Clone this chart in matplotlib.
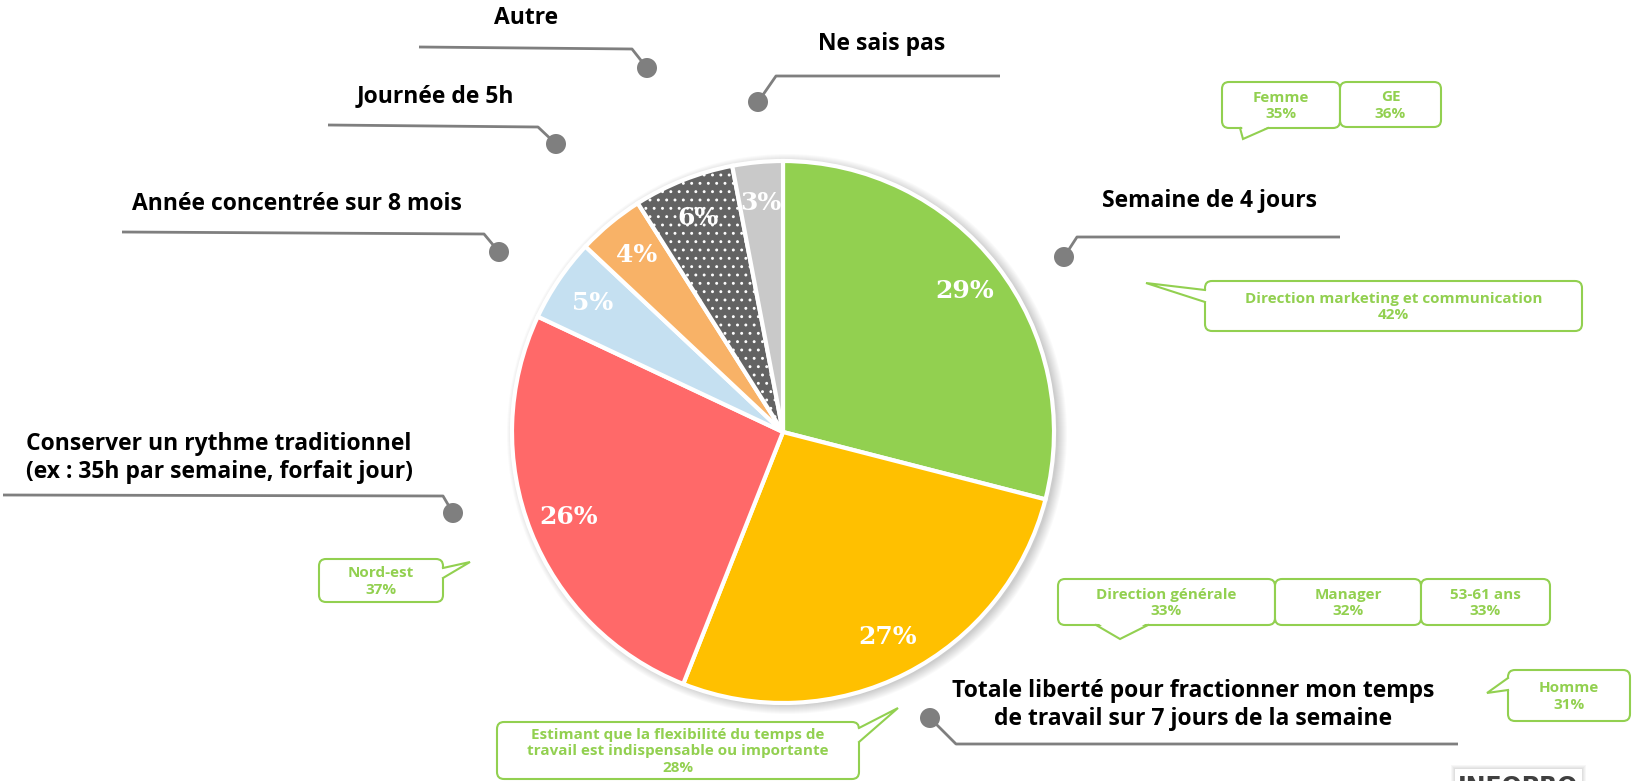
import matplotlib
matplotlib.use("Agg")
import matplotlib.pyplot as plt
from matplotlib.patches import Circle, FancyBboxPatch, Polygon, Rectangle

W, H = 1633, 781

# Données
categories = ["Semaine de 4 jours",
              "Totale liberté pour fractionner mon temps\nde travail sur 7 jours de la semaine",
              "Conserver un rythme traditionnel\n(ex : 35h par semaine, forfait jour)",
              "Année concentrée sur 8 mois",
              "Journée de 5h",
              "Autre",
              "Ne sais pas"]
valeurs = [29, 27, 26, 5, 4, 6, 3]
couleurs = ["#92D050", "#FFC000", "#FF6969", "#C5E0F1", "#F8B267", "#636363", "#C9C9C9"]

# Bulles (texte des sous-populations)
bulles_textes = ["Femme\n35%", "GE\n36%", "Direction marketing et communication\n42%",
                 "Nord-est\n37%", "Direction générale\n33%", "Manager\n32%", "53-61 ans\n33%",
                 "Homme\n31%",
                 "Estimant que la flexibilité du temps de\ntravail est indispensable ou importante\n28%"]

VERT = "#92D050"
GRIS = "#7F7F7F"


def Y(y):
    return H - y


fig = plt.figure(figsize=(W / 100, H / 100), dpi=100)
ax = fig.add_axes([0, 0, 1, 1])

cx, cy, R = 783, 432, 271

# ombre douce autour du camembert
for k in range(10):
    ax.add_patch(Circle((cx + 4, Y(cy) - 2), R + 9 - k, color="#000000", alpha=0.018, lw=0, zorder=1))

plt.rcParams["hatch.linewidth"] = 0.9
wedges, _, autotexts = ax.pie(valeurs, colors=couleurs, startangle=90, counterclock=False,
                               center=(cx, Y(cy)), radius=R, autopct="%d%%", pctdistance=0.85,
                               wedgeprops=dict(edgecolor="white", linewidth=3),
                               textprops=dict(color="white", fontsize=18, fontweight="bold",
                                              family="DejaVu Serif"))
for w in wedges:
    w.set_zorder(2)
wedges[5].set_hatch("..")
for t in autotexts:
    t.set_zorder(5)

# libellés + traits de rappel
FONT = "Open Sans"
libelles = [
    # texte, position texte, points du trait (le dernier = point)
    (categories[0], (1210, 201), [(1340, 237), (1077, 237), (1064, 257)]),
    (categories[1], (1193, 705), [(1458, 744), (956, 744), (930, 718)]),
    (categories[2], (219, 458), [(3, 495), (443, 496), (453, 513)]),
    (categories[3], (297, 204), [(122, 232), (484, 234), (499, 252)]),
    (categories[4], (435, 96), [(328, 125), (538, 127), (556, 144)]),
    (categories[5], (526, 18), [(419, 47), (632, 49), (647, 68)]),
    (categories[6], (882, 44), [(1000, 76), (776, 76), (758, 102)]),
]
for txt, (tx, ty), pts in libelles:
    ax.text(tx, Y(ty), txt, ha="center", va="center", fontsize=16.5, fontweight="bold",
            family=FONT, color="black", linespacing=1.2, zorder=6)
    xs = [p[0] for p in pts]
    ys = [Y(p[1]) for p in pts]
    ax.plot(xs, ys, color=GRIS, lw=2, zorder=3, solid_capstyle="butt")
    ax.add_patch(Circle((xs[-1], ys[-1]), 10, color=GRIS, lw=0, zorder=4))

# bulles vertes : boite (x0, y0, x1, y1), queue (base1, pointe, base2)
bulles = [
    ((1222, 82, 1340, 128), ((1240, 128), (1243, 139), (1268, 128))),
    ((1340, 82, 1441, 127), None),
    ((1205, 281, 1582, 331), ((1205, 290), (1146, 283), (1205, 302))),
    ((319, 559, 443, 602), ((443, 568), (470, 562), (443, 578))),
    ((1058, 579, 1275, 625), ((1096, 625), (1120, 639), (1148, 625))),
    ((1275, 579, 1421, 625), None),
    ((1421, 579, 1550, 625), None),
    ((1508, 670, 1630, 721), ((1508, 678), (1487, 693), (1508, 690))),
    ((497, 722, 859, 779), ((859, 728), (898, 708), (859, 742))),
]
for (x0, y0, x1, y1), queue in bulles:
    ax.add_patch(FancyBboxPatch((x0, Y(y1)), x1 - x0, y1 - y0,
                                boxstyle="round,pad=0,rounding_size=7",
                                facecolor="white", edgecolor=VERT, lw=1.5, zorder=6))
for ((x0, y0, x1, y1), queue), txt in zip(bulles, bulles_textes):
    if queue is not None:
        b1, p, b2 = queue
        mx = (b1[0] + b2[0]) / 2 - p[0]
        my = (b1[1] + b2[1]) / 2 - p[1]
        n = (mx ** 2 + my ** 2) ** 0.5
        d = (mx / n * 3, my / n * 3)
        ax.add_patch(Polygon([(b1[0] + d[0], Y(b1[1] + d[1])), (p[0], Y(p[1])),
                              (b2[0] + d[0], Y(b2[1] + d[1]))],
                             closed=True, facecolor="white", edgecolor="none", zorder=7))
        ax.plot([b1[0], p[0], b2[0]], [Y(b1[1]), Y(p[1]), Y(b2[1])], color=VERT, lw=1.5,
                zorder=7, solid_joinstyle="miter")
    ax.text((x0 + x1) / 2, Y((y0 + y1) / 2 + 1), txt, ha="center", va="center", fontsize=11,
            fontweight="bold", family=FONT, color=VERT, linespacing=1.25, zorder=8)

# logo partiellement visible en bas à droite
for k in range(5):
    ax.add_patch(Rectangle((1455 - k, Y(799) - k), 127 + 2 * k, 30 + 2 * k,
                           color="black", alpha=0.03, lw=0, zorder=8))
ax.add_patch(Rectangle((1455, Y(799)), 127, 30, facecolor="white", edgecolor="none", zorder=9))
ax.text(1518, Y(775), "INFOPRO", ha="center", va="top", fontsize=17, fontweight="bold",
        family="DejaVu Sans", color="#404040", zorder=10)

ax.set_xlim(0, W)
ax.set_ylim(0, H)
ax.set_aspect("auto")
ax.axis("off")

fig.savefig("out.png", dpi=100)
